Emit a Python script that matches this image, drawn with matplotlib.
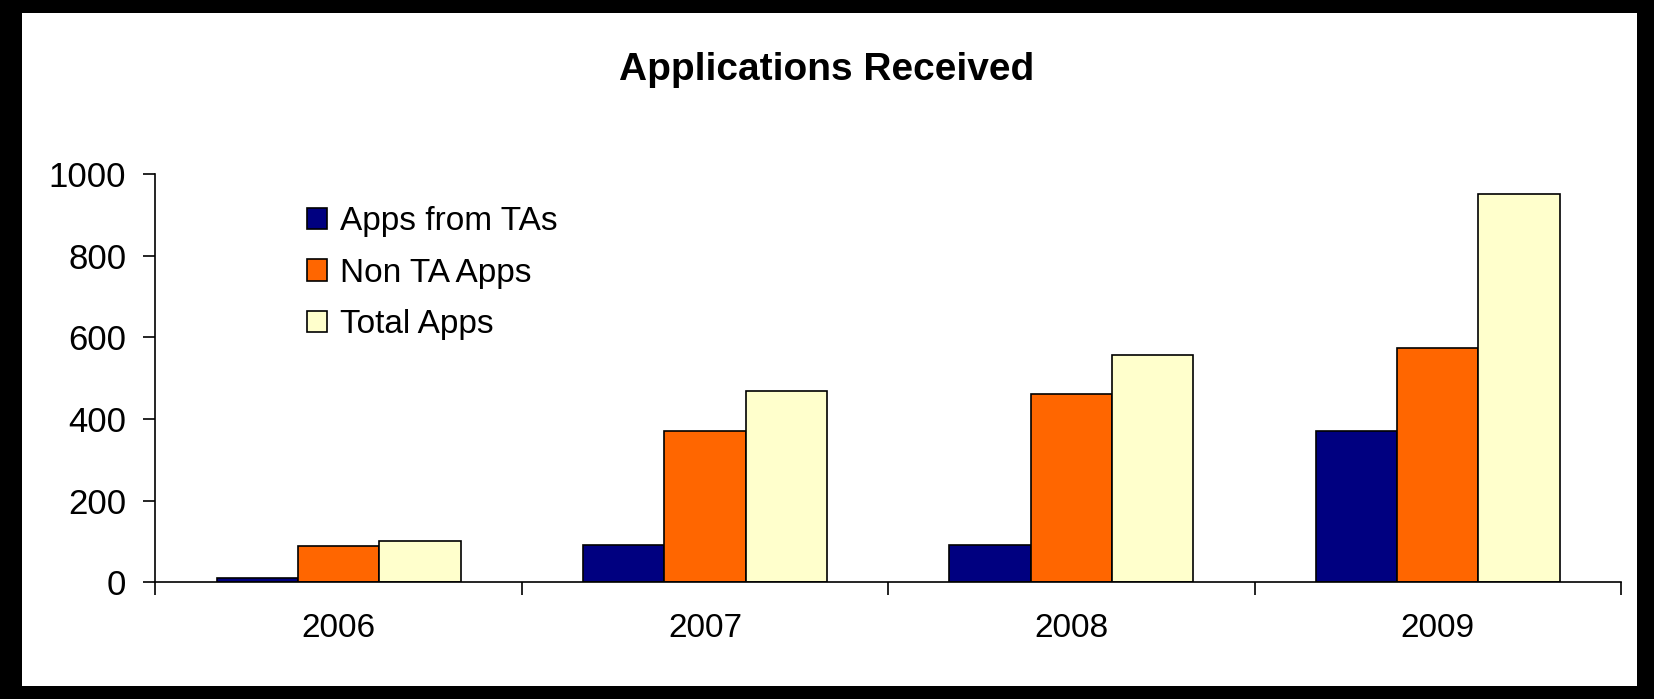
import matplotlib.pyplot as plt
import matplotlib.patches as mpatches
import numpy as np

years = ["2006", "2007", "2008", "2009"]
apps_from_tas = [10, 92, 92, 370]
non_ta_apps = [88, 370, 462, 575]
total_apps = [102, 468, 556, 950]

plt.rcParams['font.family'] = ['Liberation Sans', 'DejaVu Sans']

fig = plt.figure(figsize=(16.54, 6.99), dpi=100)
ax = fig.add_axes([0.094, 0.167, 0.886, 0.584])

x = np.arange(len(years))
w = 0.222
series = [(apps_from_tas, "#000080", "Apps from TAs"),
          (non_ta_apps, "#FF6600", "Non TA Apps"),
          (total_apps, "#FFFFCC", "Total Apps")]
for i, (vals, col, lab) in enumerate(series):
    ax.bar(x + (i - 1) * w, vals, w, color=col, edgecolor="black", linewidth=1.2, label=lab)

ax.set_xlim(-0.5, len(years) - 0.5)
ax.set_ylim(0, 1000)
ax.set_yticks(range(0, 1001, 200))
ax.set_xticks(x)
ax.set_xticklabels(years)
ax.set_xticks(np.arange(-0.5, len(years)), minor=True)
ax.tick_params(axis="x", which="major", length=0, labelsize=24, pad=22)
ax.tick_params(axis="x", which="minor", length=9, width=1.2, direction="out")
ax.tick_params(axis="y", length=9, width=1.2, labelsize=25, pad=12)
for s in ["top", "right"]:
    ax.spines[s].set_visible(False)
for s in ["left", "bottom"]:
    ax.spines[s].set_linewidth(1.2)

leg = ax.legend(loc="upper left", bbox_to_anchor=(0.083, 0.995), frameon=False, fontsize=24,
                handlelength=0.6, handleheight=0.6, handletextpad=0.4, labelspacing=0.62)

fig.suptitle("Applications Received", fontsize=28, fontweight="bold", y=0.925)

# thick black frame around the picture
for r in [(0, 0, 0.013, 1), (0.0, 0.0, 1, 0.018), (0.0, 0.981, 1, 0.019), (0.99, 0, 0.01, 1)]:
    fig.add_artist(mpatches.Rectangle(r[:2], r[2], r[3], transform=fig.transFigure,
                                      facecolor="black", edgecolor="none"))

plt.savefig("out.png", dpi=100)
